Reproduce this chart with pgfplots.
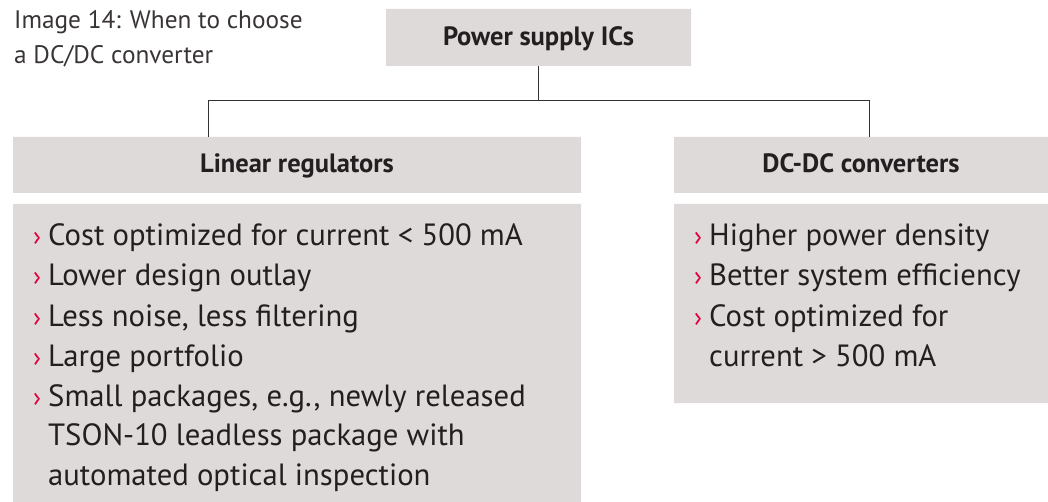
\documentclass[border=0pt]{standalone}
\usepackage{pgfplots}
\pgfplotsset{compat=1.18}
\usepackage{fontspec}
\setmainfont{PT Sans}
\definecolor{boxgrey}{HTML}{DEDADA}
\definecolor{ifxred}{HTML}{E2003B}
\definecolor{txt}{HTML}{231F20}
\definecolor{linec}{HTML}{333333}
\tikzset{
  body/.style={anchor=base west, inner sep=0pt, text=txt, font=\fontsize{30.7}{36}\selectfont},
  bula/.style={anchor=base west, inner sep=0pt, text=ifxred, font=\fontsize{27}{32}\selectfont},
  head/.style={anchor=base, inner sep=0pt, text=txt, font=\fontsize{26.5}{32}\selectfont\bfseries},
  ttl/.style={anchor=base west, inner sep=0pt, text=txt!90, font=\fontsize{25.3}{30}\selectfont},
}
\begin{document}
\begin{tikzpicture}
\begin{axis}[
  width=1048pt, height=502pt, scale only axis,
  xmin=0, xmax=1048, ymin=0, ymax=502, y dir=reverse,
  hide axis, clip=false,
]
\path[draw=none] (rel axis cs:0,0) rectangle (rel axis cs:1,1);
% boxes
\addplot[fill=boxgrey, draw=none] coordinates {(386,9) (691,9) (691,66) (386,66) (386,9)};
\addplot[fill=boxgrey, draw=none] coordinates {(13,137) (581,137) (581,193) (13,193) (13,137)};
\addplot[fill=boxgrey, draw=none] coordinates {(674,137) (1048,137) (1048,193) (674,193) (674,137)};
\addplot[fill=boxgrey, draw=none] coordinates {(13,204) (581,204) (581,502) (13,502) (13,204)};
\addplot[fill=boxgrey, draw=none] coordinates {(674,204) (1048,204) (1048,403) (674,403) (674,204)};
% connectors
\addplot[linec, line width=1pt] coordinates {(538,66) (538,101)};
\addplot[linec, line width=1pt] coordinates {(208,137) (208,101) (869,101) (869,137)};
% title
\node[ttl] at (axis cs:14,29) {Image 14: When to choose};
\node[ttl] at (axis cs:14,64) {a DC/DC converter};
% headers
\node[head] at (axis cs:538.5,46) {Power supply ICs};
\node[head] at (axis cs:297,173) {Linear regulators};
\node[head] at (axis cs:861,173) {DC-DC converters};
% left bullets
\node[bula] at (axis cs:33,246) {›};
\node[body] at (axis cs:48,246) {Cost optimized for current < 500 mA};
\node[bula] at (axis cs:33,286) {›};
\node[body] at (axis cs:48,286) {Lower design outlay};
\node[bula] at (axis cs:33,326) {›};
\node[body] at (axis cs:48,326) {Less noise, less filtering};
\node[bula] at (axis cs:33,366) {›};
\node[body] at (axis cs:48,366) {Large portfolio};
\node[bula] at (axis cs:33,406) {›};
\node[body] at (axis cs:48,406) {Small packages, e.g., newly released};
\node[body] at (axis cs:48,445.5) {TSON-10 leadless package with};
\node[body] at (axis cs:48,485) {automated optical inspection};
% right bullets
\node[bula] at (axis cs:694,246) {›};
\node[body] at (axis cs:709,246) {Higher power density};
\node[bula] at (axis cs:694,286) {›};
\node[body] at (axis cs:709,286) {Better system efficiency};
\node[bula] at (axis cs:694,326) {›};
\node[body] at (axis cs:709,326) {Cost optimized for};
\node[body] at (axis cs:709,366) {current > 500 mA};
\end{axis}
\end{tikzpicture}
\end{document}
